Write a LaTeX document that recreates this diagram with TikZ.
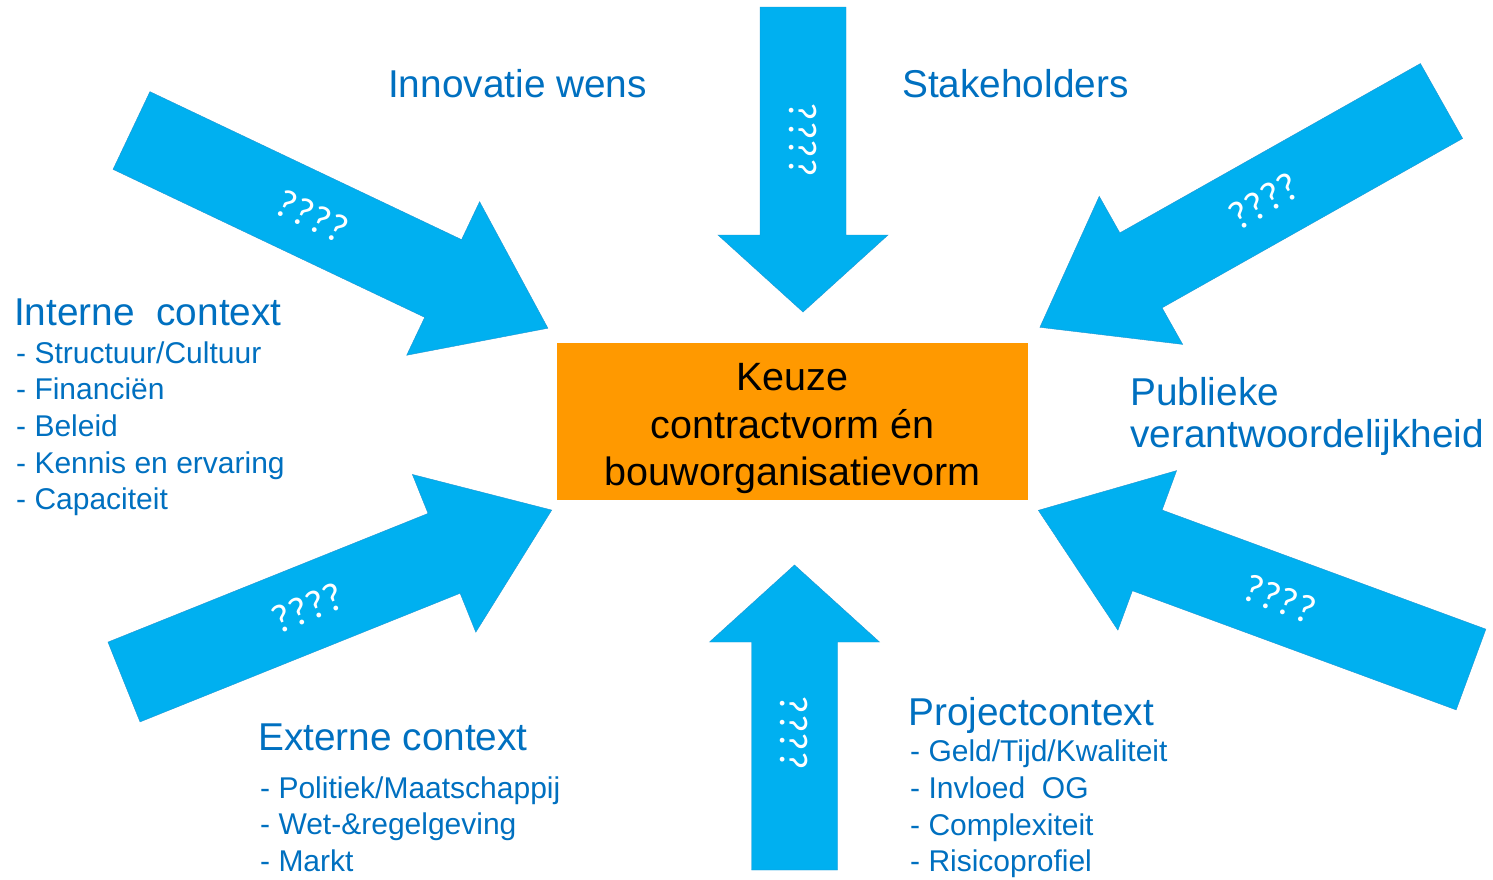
\documentclass[tikz,border=0pt]{standalone}
\usepackage{fontspec}
\setmainfont{Liberation Sans}
\newfontfamily\qmfont{Carlito}
\usepackage{tikz}

\definecolor{pijlblauw}{RGB}{0,176,240}
\definecolor{pijlrand}{RGB}{30,150,210}
\definecolor{tekstblauw}{RGB}{0,112,192}
\definecolor{keuzeoranje}{RGB}{255,153,0}

\begin{document}
\begin{tikzpicture}[x=1pt,y=-1pt,every node/.style={inner sep=0pt},
  kop/.style={anchor=base west,text=tekstblauw,font=\fontsize{38.8}{42}\selectfont},
  punt/.style={anchor=base west,text=tekstblauw,font=\fontsize{30}{36}\selectfont},
  vraag/.style={text=white,font=\qmfont\fontsize{40}{48}\selectfont},
  keuzebox/.style={fill=keuzeoranje,minimum width=471pt,minimum height=157pt,align=center,font=\fontsize{39.5}{47.5}\selectfont}]
\useasboundingbox (0,0) rectangle (1493,879);

% pijlen: staart x/y, hoek, lengte, kop, hoek tekst, plek tekst
\foreach \x/\y/\a/\l/\h/\r/\m [count=\i] in {131.5/130.5/-25.4/461/116/-25.4/200, 1441.5/101/209.4/461/116/29.4/204, 124/682/21.9/461/116/21.9/198, 1471/669.5/159.8/461/116/-20.2/204, 803/7/-90/305/77/-90/133, 794.5/870/90/305/77/-90/137}{
\draw[fill=pijlblauw,draw=pijlrand,shift={(\x,\y)},rotate=\a] (0,-43) -- (\l-\h,-43) -- (\l-\h,-85) -- (\l,0) -- (\l-\h,85) -- (\l-\h,43) -- (0,43) -- cycle
  (\m,0) node[vraag,rotate=\r] (vraag-\i) {????};}

\node[keuzebox] (keuze) at (792.5,421.5) {\rule{0pt}{42pt}Keuze\\contractvorm én\\bouworganisatievorm};

\node[kop] (innovatie) at (388,97) {Innovatie wens};
\node[kop] (stakeholders) at (902,97) {Stakeholders};
\node[kop] (intern) at (14,325) {Interne~ context};
\node[kop] (extern) at (258,750) {Externe context};
\node[kop] (project) at (908,725) {Projectcontext};
\node[kop,anchor=north west,align=left] (publiek) at (1130,377) {Publieke\\verantwoordelijkheid};

\foreach \t [count=\i] in {Structuur/Cultuur,Financiën,Beleid,Kennis en ervaring,Capaciteit}
  \node[punt] (intern-\i) at (16,326.3+36.7*\i) {- \t};
\foreach \t [count=\i] in {Politiek/Maatschappij,Wet-\&regelgeving,Markt}
  \node[punt] (extern-\i) at (260,761.3+36.7*\i) {- \t};
\foreach \t [count=\i] in {Geld/Tijd/Kwaliteit,Invloed~ OG,Complexiteit,Risicoprofiel}
  \node[punt] (project-\i) at (910,725+36.7*\i) {- \t};

\end{tikzpicture}
\end{document}
